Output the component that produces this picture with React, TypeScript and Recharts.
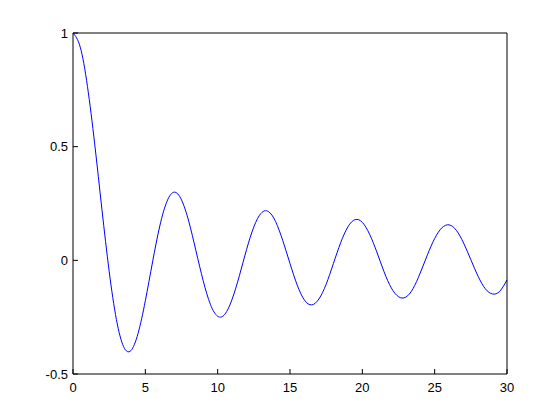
import { Line, LineChart, XAxis, YAxis } from "recharts";

// x positions and the curve
const xValues = [
  0, 0.5, 1, 1.5, 2, 2.5, 3, 3.5, 4, 4.5, 5, 5.5, 6, 6.5, 7, 7.5, 8, 8.5, 9, 9.5,
  10, 10.5, 11, 11.5, 12, 12.5, 13, 13.5, 14, 14.5, 15, 15.5, 16, 16.5, 17, 17.5,
  18, 18.5, 19, 19.5, 20, 20.5, 21, 21.5, 22, 22.5, 23, 23.5, 24, 24.5, 25, 25.5,
  26, 26.5, 27, 27.5, 28, 28.5, 29, 29.5, 30,
];
const yValues = [
  1, 0.938, 0.765, 0.512, 0.224, -0.048, -0.26, -0.38, -0.397, -0.321, -0.178,
  -0.007, 0.151, 0.26, 0.3, 0.266, 0.172, 0.042, -0.09, -0.194, -0.246, -0.237,
  -0.171, -0.068, 0.048, 0.147, 0.207, 0.215, 0.171, 0.087, -0.014, -0.109,
  -0.175, -0.196, -0.17, -0.105, -0.014, 0.077, 0.147, 0.179, 0.167, 0.115,
  0.037, -0.05, -0.121, -0.16, -0.162, -0.125, -0.056, 0.024, 0.096, 0.143,
  0.156, 0.132, 0.076, 0.003, -0.07, -0.125, -0.148, -0.136, -0.086,
];
const xTicks = [0, 5, 10, 15, 20, 25, 30];
const yTicks = [-0.5, 0, 0.5, 1];

const data = xValues.map((x, i) => ({ x, y: yValues[i] }));

const tickStyle = { fill: "#000", fontSize: 13, fontFamily: "Liberation Sans, Arial, sans-serif" };
const lineStyle = { stroke: "#000", strokeWidth: 1 };

export default function App() {
  return (
    <div style={{ position: "absolute", left: 0, top: 0, background: "#fff" }}>
      <LineChart
        width={560}
        height={420}
        data={data}
        margin={{ top: 0, right: 0, bottom: 16, left: 0 }}
      >
        <XAxis
          xAxisId="bottom"
          dataKey="x"
          type="number"
          domain={[0, 30]}
          ticks={xTicks}
          height={30}
          tickSize={-5}
          tickMargin={14}
          tick={tickStyle}
          tickLine={lineStyle}
          axisLine={lineStyle}
        />
        <XAxis
          xAxisId="top"
          orientation="top"
          dataKey="x"
          type="number"
          domain={[0, 30]}
          ticks={xTicks}
          height={33}
          tickSize={-5}
          tick={false}
          tickLine={lineStyle}
          axisLine={lineStyle}
        />
        <YAxis
          yAxisId="left"
          type="number"
          domain={[-0.5, 1]}
          ticks={yTicks}
          width={73}
          tickSize={-5}
          tickMargin={10}
          tick={tickStyle}
          tickLine={lineStyle}
          axisLine={lineStyle}
        />
        <YAxis
          yAxisId="right"
          orientation="right"
          type="number"
          domain={[-0.5, 1]}
          ticks={yTicks}
          width={53}
          tickSize={-5}
          tick={false}
          tickLine={lineStyle}
          axisLine={lineStyle}
        />
        {/* hidden copy so the top and right axes (the box) get drawn */}
        <Line
          xAxisId="top"
          yAxisId="right"
          dataKey="y"
          type="natural"
          stroke="none"
          dot={false}
          activeDot={false}
          isAnimationActive={false}
        />
        <Line
          xAxisId="bottom"
          yAxisId="left"
          dataKey="y"
          type="natural"
          stroke="#0000ff"
          strokeWidth={1}
          dot={false}
          isAnimationActive={false}
        />
      </LineChart>
    </div>
  );
}
